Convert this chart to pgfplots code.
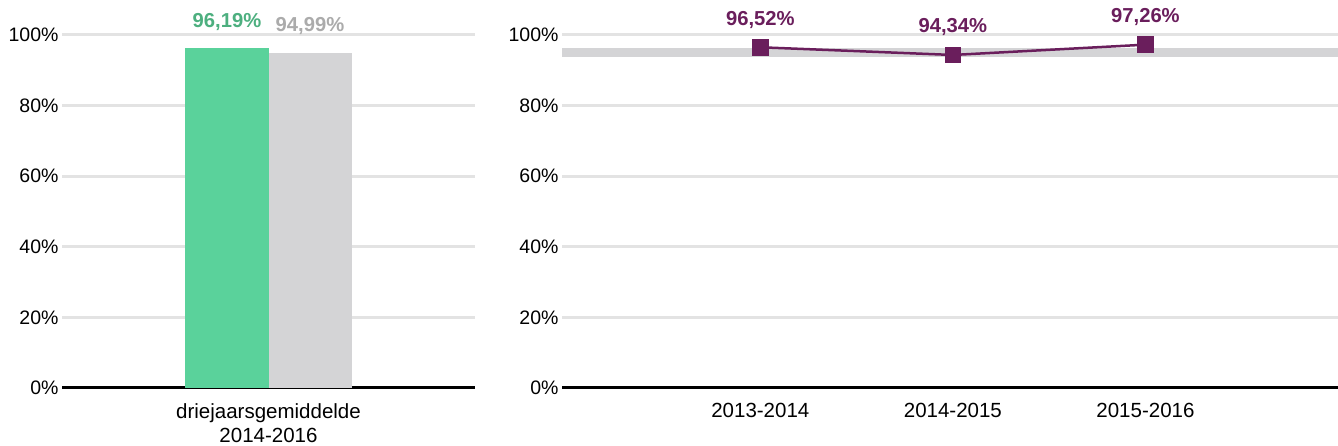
\documentclass[border=0pt]{standalone}
\usepackage{pgfplots}
\pgfplotsset{compat=1.18}
\usepackage{fontspec}
\setmainfont{Liberation Sans}

\definecolor{gridgray}{HTML}{E3E3E3}
\definecolor{bargreen}{HTML}{5AD29B}
\definecolor{txtgreen}{HTML}{4DAF7F}
\definecolor{bargray}{HTML}{D4D4D6}
\definecolor{txtgray}{HTML}{ABABAB}
\definecolor{purp}{HTML}{6A1E5C}

\pgfplotsset{
  base/.style={
    scale only axis, height=353pt, ymin=0, ymax=100,
    anchor=south west, clip=false,
    axis x line*=bottom, axis y line*=left,
    x axis line style={black, line width=3pt, -},
    y axis line style={draw=none},
    ytick={0,20,...,100},
    yticklabel={\pgfmathprintnumber{\tick}\%},
    ymajorgrids, grid style={gridgray, line width=3pt},
    major tick length=0pt,
    yticklabel style={font=\fontsize{19.5}{24}\selectfont},
    xticklabel style={font=\fontsize{20.5}{24}\selectfont, yshift=-12pt},
    /pgf/number format/assume math mode=true,
  },
  lbl/.style={
    nodes near coords={\pgfmathprintnumber[fixed,fixed zerofill,precision=2,use comma]{\pgfplotspointmeta}\%},
    every node near coord/.append style={#1, font=\fontsize{20.2}{24}\selectfont\bfseries, yshift=14.5pt},
  },
}

\begin{document}
\begin{tikzpicture}
\useasboundingbox (0,0) rectangle (1338pt,446pt);

% left: three-year average
\begin{axis}[base, at={(62pt,58pt)}, width=413pt,
    xmin=-0.5, xmax=0.5, xtick={0},
    xticklabels={{driejaarsgemiddelde\\2014-2016}},
    xticklabel style={align=center},
    ybar=0pt, bar width=83pt]
\addplot[fill=bargreen, draw=none, lbl=txtgreen] coordinates {(0,96.19)};
\addplot[fill=bargray, draw=none, lbl=txtgray] coordinates {(0,94.99)};
\end{axis}

% right: per school year
\begin{axis}[base, at={(562pt,58pt)}, width=776pt,
    xmin=-1.03, xmax=3, xtick={0,1,2},
    xticklabels={2013-2014,2014-2015,2015-2016}]
\addplot[bargray, line width=9pt] coordinates {(-1.03,94.99) (3,94.99)};
\addplot[purp, line width=2.5pt, mark=square*, mark size=7pt, lbl=purp]
  coordinates {(0,96.52) (1,94.34) (2,97.26)};
\end{axis}
\end{tikzpicture}
\end{document}
